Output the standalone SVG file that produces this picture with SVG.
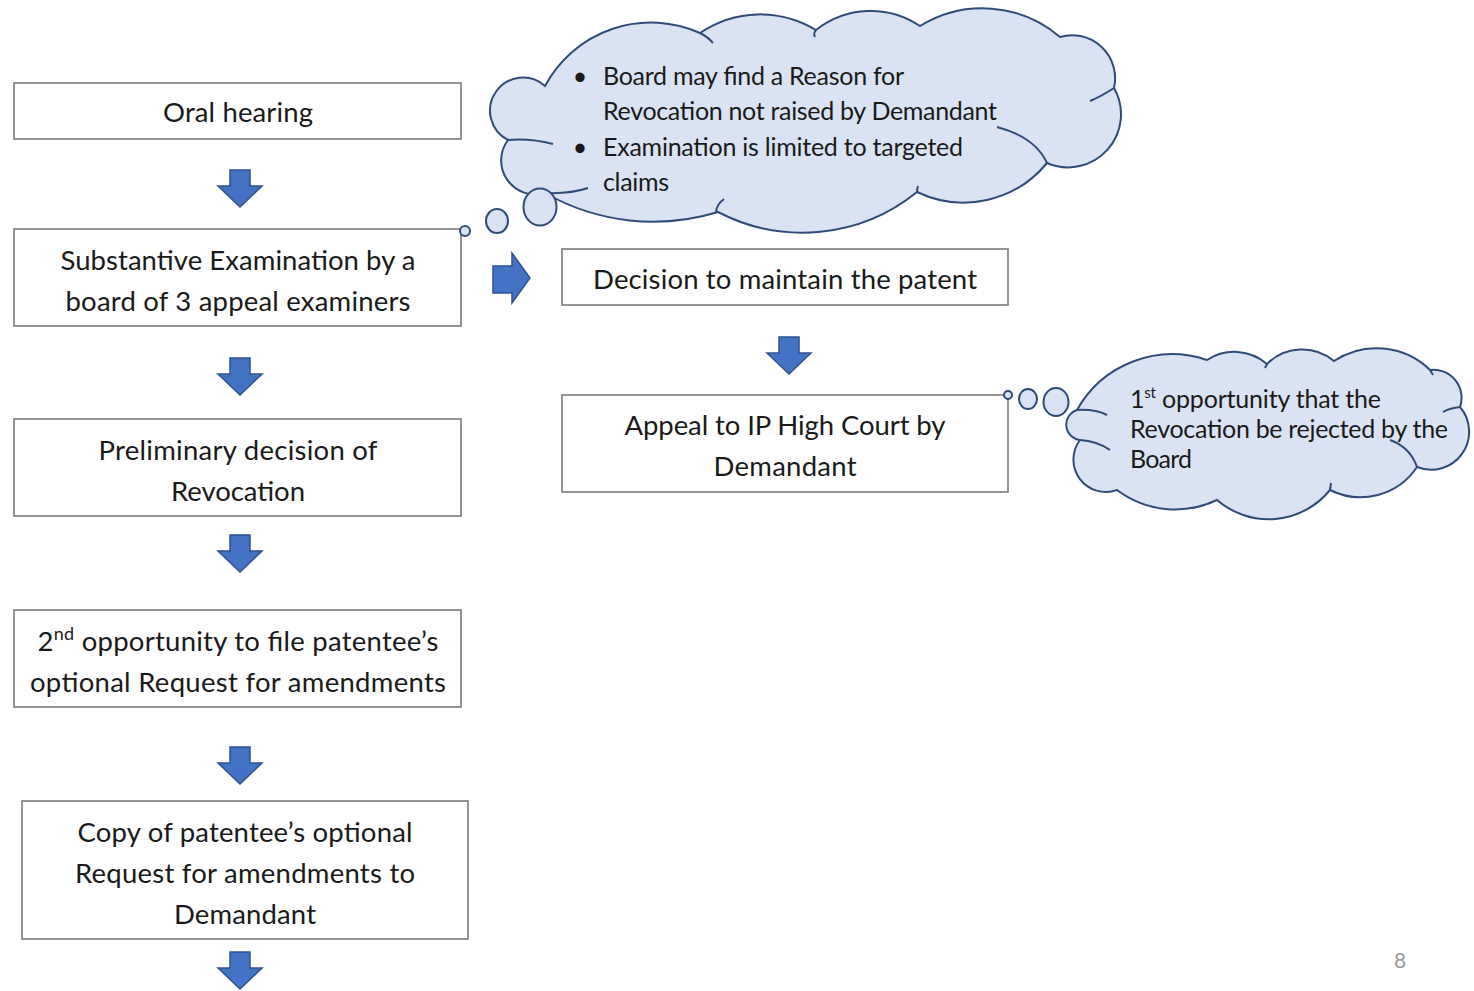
<svg xmlns="http://www.w3.org/2000/svg" width="1474" height="991" viewBox="0 0 1474 991">
<defs>
<style>
.box{fill:#ffffff;stroke:#7a7a7a;stroke-width:1.6}
.t{font-family:Lato,"Open Sans","Liberation Sans",sans-serif;font-size:27.5px;fill:#1a1a1a;text-anchor:middle}
.ct{font-family:Lato,"Open Sans","Liberation Sans",sans-serif;font-size:25px;fill:#1a1a1a}
.cloud{fill:#DAE3F3;stroke:#2F4B78;stroke-width:2}
.inner{fill:none;stroke:#2F4B78;stroke-width:2}
.arr{fill:#4472C4;stroke:#2F528F;stroke-width:1.5;stroke-linejoin:miter}
.pg{font-family:Lato,"Open Sans","Liberation Sans",sans-serif;font-size:21px;fill:#9a9a9a;text-anchor:middle}
</style>
<path id="down" d="M-10,0 H10 V16 H22 L0,37 L-22,16 H-10 Z"/>
</defs>
<rect width="1474" height="991" fill="#ffffff"/>

<g id="connectors">
<use href="#down" class="arr" x="240" y="170"/>
<use href="#down" class="arr" x="240" y="358"/>
<use href="#down" class="arr" x="240" y="535"/>
<use href="#down" class="arr" x="240" y="747"/>
<use href="#down" class="arr" x="240" y="952"/>
<use href="#down" class="arr" x="789" y="337"/>
<path class="arr" d="M493,266 H512 V253 L530,278 L512,303 V293 H493 Z"/>
</g>

<g id="oral-hearing">
<rect class="box" x="14" y="83" width="447" height="56"/>
<text class="t" x="238" y="122" textLength="150">Oral hearing</text>
</g>

<g id="substantive-examination">
<rect class="box" x="14" y="229" width="447" height="97"/>
<text class="t" x="238" y="270" textLength="355">Substantive Examination by a</text>
<text class="t" x="238" y="311" textLength="345">board of 3 appeal examiners</text>
</g>

<g id="preliminary-decision">
<rect class="box" x="14" y="419" width="447" height="97"/>
<text class="t" x="238" y="460" textLength="279">Preliminary decision of</text>
<text class="t" x="238" y="501" textLength="134">Revocation</text>
</g>

<g id="second-opportunity">
<rect class="box" x="14" y="610" width="447" height="97"/>
<text class="t" x="238" y="651" textLength="401">2<tspan font-size="18" dy="-11">nd</tspan><tspan dy="11"> opportunity to file patentee’s</tspan></text>
<text class="t" x="238" y="692" textLength="416">optional Request for amendments</text>
</g>

<g id="copy-to-demandant">
<rect class="box" x="22" y="801" width="446" height="138"/>
<text class="t" x="245" y="842" textLength="335">Copy of patentee’s optional</text>
<text class="t" x="245" y="883" textLength="340">Request for amendments to</text>
<text class="t" x="245" y="924" textLength="142">Demandant</text>
</g>

<g id="decision-maintain">
<rect class="box" x="562" y="249" width="446" height="56"/>
<text class="t" x="785" y="289" textLength="384">Decision to maintain the patent</text>
</g>

<g id="appeal-ip-high-court">
<rect class="box" x="562" y="395" width="446" height="97"/>
<text class="t" x="785" y="435" textLength="321">Appeal to IP High Court by</text>
<text class="t" x="785" y="476" textLength="143">Demandant</text>
</g>

<g id="cloud-board">
<path class="cloud" d="M545,86 A120,120 0 0 1 700,33 A107,107 0 0 1 816,30 A88,88 0 0 1 920,26 A119,119 0 0 1 1060,37 A43,43 0 0 1 1114,88 A53,53 0 0 1 1047,163 A108,108 0 0 1 917,192 A182,182 0 0 1 718,212 A219,219 0 0 1 545,193 A34,34 0 0 1 508,140 A33,33 0 1 1 545,86 Z"/>
<path class="inner" d="M508,140 Q530,138 553,144 M545,193 Q570,194 588,188 M1047,163 Q1035,137 997,127 M1114,88 Q1100,97 1090,101 M700,33 Q708,37 713,43 M716,213 Q716,205 724,199 M917,192 Q917,189 918,186 M816,30 Q813,33 815,37"/>
<ellipse class="cloud" cx="465" cy="231" rx="5" ry="5" stroke-width="1.5"/>
<ellipse class="cloud" cx="497" cy="221" rx="11" ry="12"/>
<ellipse class="cloud" cx="540" cy="207" rx="16.5" ry="18.5"/>
<text class="ct" x="580" y="85" text-anchor="middle">•</text>
<text class="ct" x="603" y="85" textLength="301">Board may find a Reason for</text>
<text class="ct" x="603" y="120" textLength="394">Revocation not raised by Demandant</text>
<text class="ct" x="580" y="156" text-anchor="middle">•</text>
<text class="ct" x="603" y="156" textLength="360">Examination is limited to targeted</text>
<text class="ct" x="603" y="191" textLength="66">claims</text>
</g>

<g id="cloud-first-opportunity">
<path class="cloud" d="M1077,410 A109,109 0 0 1 1207,360 A50,50 0 0 1 1267,364 A50,50 0 0 1 1334,361 A77,77 0 0 1 1430,370 A28,28 0 0 1 1460,407 A38,38 0 0 1 1417,467 A68,68 0 0 1 1330,490 A79,79 0 0 1 1217,500 A97,97 0 0 1 1117,490 A32.4,32.4 0 0 1 1080,440 A15.4,15.4 0 0 1 1077,410 Z"/>
<path class="inner" d="M1077,410 Q1095,409 1107,415 M1080,440 Q1097,441 1110,450 M1460,407 Q1450,408 1443,412 M1417,467 Q1410,447 1390,440 M1330,490 L1331,483 M1430,370 L1433,375 M1267,364 L1265,368"/>
<ellipse class="cloud" cx="1008" cy="395" rx="4" ry="4" stroke-width="1.5"/>
<ellipse class="cloud" cx="1028" cy="399" rx="9" ry="10"/>
<ellipse class="cloud" cx="1056" cy="402" rx="12.5" ry="14"/>
<text class="ct" x="1130" y="408" font-size="24" textLength="251">1<tspan font-size="15" dy="-10">st</tspan><tspan dy="10"> opportunity that the</tspan></text>
<text class="ct" x="1130" y="438" font-size="24" textLength="318">Revocation be rejected by the</text>
<text class="ct" x="1130" y="468" font-size="24" textLength="62">Board</text>
</g>

<text class="pg" x="1400" y="968">8</text>
</svg>
